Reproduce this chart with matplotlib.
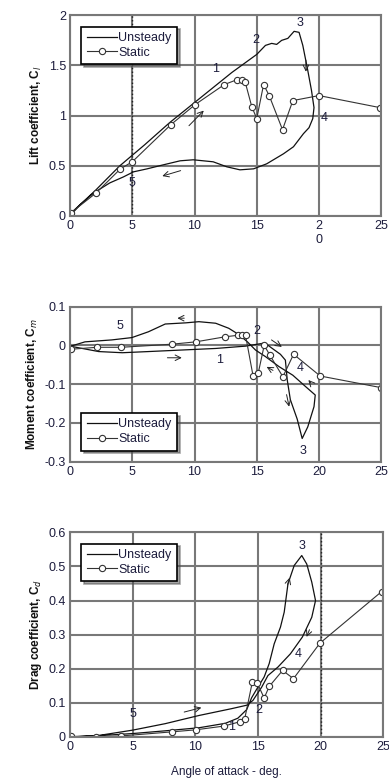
import matplotlib.pyplot as plt
import numpy as np

plt.rcParams['font.family'] = ['Liberation Sans', 'DejaVu Sans']

# ---- Lift ----
lift_static_a = [0.05, 2.1, 4.05, 5.0, 8.1, 10.05, 12.4, 13.45, 13.85, 14.06, 14.6, 15.0,
                 15.55, 16.0, 17.07, 17.9, 20.0, 24.9]
lift_static_c = [0.03, 0.23, 0.47, 0.54, 0.91, 1.11, 1.31, 1.36, 1.36, 1.34, 1.09, 0.97,
                 1.31, 1.20, 0.86, 1.15, 1.20, 1.08]
lift_unst_a = [0.0, 2.0, 4.0, 6.0, 8.0, 10.0, 12.0, 13.0, 14.0, 15.0, 15.7, 16.2, 16.6, 17.0,
               17.5, 18.0, 18.4, 18.7, 19.1, 19.4, 19.6, 19.5, 19.2, 18.75, 17.95, 17.15, 15.8,
               14.75, 13.65, 12.6, 11.5, 9.9, 8.85, 7.5, 6.2, 5.1, 4.3, 3.2, 1.9, 0.8, 0.05]
lift_unst_c = [0.02, 0.25, 0.50, 0.71, 0.93, 1.13, 1.33, 1.43, 1.52, 1.61, 1.70, 1.72, 1.71,
               1.75, 1.77, 1.84, 1.83, 1.70, 1.45, 1.25, 1.08, 0.97, 0.88, 0.82, 0.69, 0.62,
               0.52, 0.47, 0.46, 0.49, 0.54, 0.56, 0.55, 0.51, 0.47, 0.44, 0.39, 0.33, 0.23,
               0.11, 0.01]

# ---- Moment ----
mom_static_a = [0.08, 2.15, 4.1, 8.2, 10.1, 12.45, 13.5, 13.85, 14.1, 14.7, 15.13, 15.6,
                16.05, 17.1, 17.96, 20.1, 25.0]
mom_static_c = [-0.010, -0.005, -0.005, 0.003, 0.009, 0.022, 0.026, 0.027, 0.026, -0.078,
                -0.070, 0.0, -0.025, -0.081, -0.023, -0.079, -0.109]
mom_unst_a = [0.0, 2.3, 4.2, 6.3, 9.0, 11.7, 14.1, 15.45, 15.7, 16.25, 16.9, 17.3, 17.45,
              17.7, 18.25, 18.65, 19.1, 19.6, 19.7, 18.95, 17.9, 16.8, 15.7, 14.9, 14.25,
              13.6, 12.75, 11.7, 10.35, 9.3, 7.65, 6.3, 4.97, 3.35, 1.2, 0.08]
mom_unst_c = [-0.002, -0.016, -0.019, -0.016, -0.012, -0.008, -0.002, 0.005, 0.005, -0.008,
              -0.023, -0.038, -0.089, -0.140, -0.190, -0.240, -0.210, -0.158, -0.128, -0.107,
              -0.077, -0.055, -0.029, -0.012, 0.009, 0.027, 0.044, 0.057, 0.061, 0.058, 0.055,
              0.035, 0.020, 0.014, 0.009, -0.002]

# ---- Drag ----
drag_static_a = [0.08, 2.1, 4.08, 8.16, 10.05, 12.3, 13.6, 13.95, 14.55, 14.95, 15.5, 15.9,
                 16.97, 17.84, 19.95, 24.87]
drag_static_c = [0.002, 0.0, 0.003, 0.015, 0.021, 0.032, 0.045, 0.054, 0.160, 0.158, 0.114,
                 0.148, 0.195, 0.171, 0.275, 0.426]
drag_unst_a = [0.0, 2.4, 5.0, 7.6, 10.3, 12.4, 13.4, 14.1, 14.5, 14.9, 15.5, 15.9, 16.3, 16.8,
               17.1, 17.4, 17.9, 18.5, 18.9, 19.3, 19.6, 19.3, 18.55, 17.6, 16.6, 15.8, 15.3,
               14.6, 14.1, 12.9, 10.3, 7.6, 5.0, 2.4, 0.0]
drag_unst_c = [0.0, 0.004, 0.010, 0.018, 0.027, 0.040, 0.055, 0.080, 0.115, 0.140, 0.176,
               0.215, 0.273, 0.322, 0.366, 0.449, 0.503, 0.532, 0.507, 0.454, 0.400, 0.351,
               0.293, 0.244, 0.205, 0.180, 0.146, 0.107, 0.093, 0.083, 0.063, 0.039, 0.020,
               0.005, 0.0]

fig = plt.figure(figsize=(3.89, 7.84), dpi=100)

grid_col = '#787878'
text_col = '#1c1c3c'


def style_axes(ax, yticks, ylim, ylabel):
    ax.set_xlim(0, 25)
    ax.set_ylim(*ylim)
    ax.set_xticks([0, 5, 10, 15, 20, 25])
    ax.set_yticks(yticks)
    ax.grid(True, color=grid_col, linewidth=1.5)
    ax.set_axisbelow(True)
    for s in ax.spines.values():
        s.set_color(grid_col)
        s.set_linewidth(1.5)
    ax.tick_params(labelsize=9, length=0, pad=3, labelcolor=text_col)
    ax.set_ylabel(ylabel, fontsize=8.5, fontweight='bold', labelpad=3, color='#111111')


def plot_pair(ax, ua, uc, sa, sc, loc):
    ax.plot(ua, uc, color='#111111', lw=0.9, label='Unsteady')
    ax.plot(sa, sc, color='#333333', lw=0.8, marker='o', ms=4.5, mfc='white',
            mec='#333333', mew=0.8, label='Static')
    leg = ax.legend(loc=loc, fontsize=9, frameon=True, fancybox=False, shadow=True,
                    handlelength=2.4, handletextpad=0.1, borderpad=0.45, labelspacing=0.2,
                    borderaxespad=0.9, framealpha=1)
    leg.get_frame().set_edgecolor('black')
    leg.get_frame().set_linewidth(1.2)
    for t in leg.get_texts():
        t.set_color(text_col)


def arrow(ax, start, end):
    ax.annotate('', xy=end, xytext=start,
                arrowprops=dict(arrowstyle='->', color='#222222', lw=0.7))


def labels(ax, items):
    for x, y, t in items:
        ax.text(x, y, t, fontsize=9, ha='center', va='center', color=text_col)


# Lift
ax1 = fig.add_axes([0.180, 0.7245, 0.800, 0.256])
style_axes(ax1, [0, 0.5, 1, 1.5, 2], (0, 2), 'Lift coefficient, C$_l$')
ax1.set_yticklabels(['0', '0.5', '1', '1.5', '2'])
ax1.set_xticklabels(['0', '5', '10', '15', '2\n0', '25'])
ax1.axvline(5, color='#222222', lw=1.0, ls=':')
plot_pair(ax1, lift_unst_a, lift_unst_c, lift_static_a, lift_static_c, 'upper left')
arrow(ax1, (18.95, 1.58), (18.95, 1.41))
arrow(ax1, (9.4, 0.88), (10.9, 1.07))
arrow(ax1, (9.1, 0.46), (7.2, 0.39))
labels(ax1, [(11.7, 1.46, '1'), (14.9, 1.75, '2'), (18.5, 1.92, '3'),
             (20.4, 0.98, '4'), (5.0, 0.33, '5')])

# Moment
ax2 = fig.add_axes([0.180, 0.411, 0.800, 0.198])
style_axes(ax2, [-0.3, -0.2, -0.1, 0, 0.1], (-0.3, 0.1), 'Moment coefficient, C$_m$')
ax2.set_yticklabels(['-0.3', '-0.2', '-0.1', '0', '0.1'])
plot_pair(ax2, mom_unst_a, mom_unst_c, mom_static_a, mom_static_c, 'lower left')
arrow(ax2, (7.6, -0.032), (9.2, -0.032))
arrow(ax2, (9.4, 0.070), (8.4, 0.070))
arrow(ax2, (16.0, 0.018), (17.2, -0.008))
arrow(ax2, (16.5, -0.068), (15.6, -0.052))
arrow(ax2, (19.5, -0.102), (19.0, -0.084))
arrow(ax2, (17.35, -0.12), (17.65, -0.165))
labels(ax2, [(12.0, -0.038, '1'), (15.0, 0.037, '2'), (18.7, -0.272, '3'),
             (18.5, -0.059, '4'), (4.0, 0.051, '5')])

# Drag
ax3 = fig.add_axes([0.180, 0.060, 0.805, 0.261])
style_axes(ax3, [0, 0.1, 0.2, 0.3, 0.4, 0.5, 0.6], (0, 0.6), 'Drag coefficient, C$_d$')
ax3.set_yticklabels(['0', '0.1', '0.2', '0.3', '0.4', '0.5', '0.6'])
ax3.axvline(20, color='#222222', lw=1.0, ls=':')
plot_pair(ax3, drag_unst_a, drag_unst_c, drag_static_a, drag_static_c, 'upper left')
arrow(ax3, (8.9, 0.071), (10.7, 0.088))
arrow(ax3, (17.3, 0.437), (17.6, 0.475))
arrow(ax3, (19.2, 0.322), (18.8, 0.286))
labels(ax3, [(12.9, 0.029, '1'), (15.05, 0.078, '2'), (18.5, 0.561, '3'),
             (18.25, 0.244, '4'), (5.0, 0.066, '5')])
ax3.set_xlabel('Angle of attack - deg.', fontsize=8.5, labelpad=9, color=text_col)

fig.savefig('out.png', dpi=100)
